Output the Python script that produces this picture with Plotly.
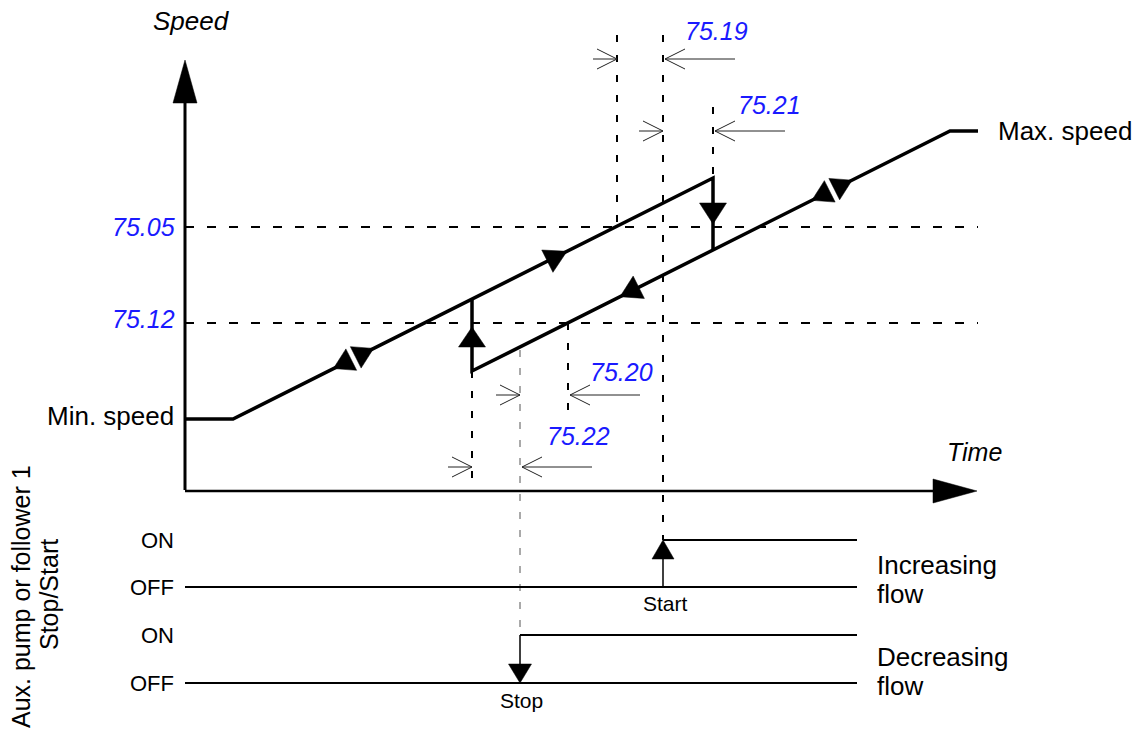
import numpy as np
import plotly.graph_objects as go

# ---------------- data (diagram units: x = time, y = speed, screen-like, down = lower) -------------
# increasing-flow path: min speed -> ramp up -> drop at 75.21 delay end
inc_time = [185, 233, 713, 713]
inc_speed = [419, 419, 178, 250]
# decreasing-flow path: rise at 75.22 delay end -> ramp -> max speed
dec_time = [472, 472, 950, 978]
dec_speed = [299, 371, 131, 131]

level_names = ["75.05", "75.12"]
level_values = [227, 323]

speed_labels = ["Min. speed", "Max. speed"]

# delay markers: label, from-time, to-time, marker height
delay_labels = ["75.19", "75.21", "75.20", "75.22"]
delay_from = [617, 663, 520, 472]
delay_to = [663, 713, 568, 520]
delay_level = [59, 131, 395, 467]
delay_label_pos = [(716, 31), (769, 105), (621, 372), (578, 436)]

# guide lines (time, from, to)
guide_time = [617, 663, 713, 472, 568]
guide_top = [35, 35, 107, 371, 323]
guide_bottom = [227, 540, 178, 490, 420]
stop_guide = (520, 350, 635)

# Stop / Start signals
state_labels = ["ON", "OFF", "ON", "OFF"]
state_levels = [540, 587, 635, 683]
start_time = 663
stop_time = 520
signal_end = 857

FONT = "Liberation Sans, Arial, sans-serif"
BLUE = "#1a1aff"

fig = go.Figure()


def add_line(x, y, width=2, color="black", dash=None):
    fig.add_trace(go.Scatter(x=x, y=y, mode="lines", hoverinfo="skip",
                             line=dict(color=color, width=width, dash=dash)))


def add_tri(ax, ay, dx, dy, length, half, outline=0):
    n = np.hypot(dx, dy)
    ux, uy = dx / n, dy / n
    bx, by = ax - ux * length, ay - uy * length
    px, py = -uy, ux
    xs = [ax, bx + px * half, bx - px * half, ax]
    ys = [ay, by + py * half, by - py * half, ay]
    fig.add_trace(go.Scatter(x=xs, y=ys, mode="lines", fill="toself", fillcolor="black",
                             hoverinfo="skip",
                             line=dict(color="white" if outline else "black", width=outline if outline else 0.5)))


def add_chevron(x, y, direction, shaft):
    # direction +1 => '>' (shaft on the left) ; -1 => '<' (shaft on the right)
    add_line([x - direction * 20, x, x - direction * 20], [y - 10, y, y + 10], width=1, color="#222")
    add_line([x, x - direction * shaft], [y, y], width=1, color="#222")


# horizontal dashed level lines
for v in level_values:
    add_line([185, 978], [v, v], width=2, dash="9px,13px")

# vertical dashed guides
for t, a, b in zip(guide_time, guide_top, guide_bottom):
    add_line([t, t], [a, b], width=2, dash="7px,13px")
add_line([stop_guide[0]] * 2, [stop_guide[1], stop_guide[2]], width=1, color="#555", dash="7px,11px")

# axes
add_line([185, 185], [490, 100], width=3)
add_tri(185, 60, 0, -1, 43, 12)
add_line([185, 935], [491, 491], width=2.5)
add_tri(977, 491, 1, 0, 44, 12)

# speed paths
add_line(inc_time, inc_speed, width=3.5)
add_line(dec_time, dec_speed, width=3.5)


def on_path(xs, ys, t):
    return float(np.interp(t, xs, ys))


up_x = inc_time[1:3]
up_y = inc_speed[1:3]
dn_x = dec_time[1:3]
dn_y = dec_speed[1:3]
slope_dir = (up_x[1] - up_x[0], up_y[1] - up_y[0])


def double_arrow(xs, ys, tc):
    n = np.hypot(*slope_dir)
    ux, uy = slope_dir[0] / n, slope_dir[1] / n
    cy = on_path(xs, ys, tc)
    gap = 2.5
    add_line([tc - ux * 4, tc + ux * 4], [cy - uy * 4, cy + uy * 4], width=6, color="white")
    add_tri(tc + ux * (gap + 20), cy + uy * (gap + 20), ux, uy, 20, 12)
    add_tri(tc - ux * (gap + 20), cy - uy * (gap + 20), -ux, -uy, 20, 12)


double_arrow(up_x, up_y, 353.5)
double_arrow(dn_x, dn_y, 832)
# single direction arrows
add_tri(567, on_path(up_x, up_y, 567), slope_dir[0], slope_dir[1], 22, 12.5)
add_tri(620, on_path(dn_x, dn_y, 620), -slope_dir[0], -slope_dir[1], 21, 12.5)
add_tri(472, 327, 0, -1, 20, 13.5)
add_tri(713, 224, 0, 1, 21, 13.5)

# delay markers
for lab, a, b, lv in zip(delay_labels, delay_from, delay_to, delay_level):
    add_chevron(a, lv, 1, 24)
    add_chevron(b + 2, lv, -1, 70)

# Stop/Start signal lines
add_line([185, signal_end], [state_levels[1]] * 2, width=2)
add_line([start_time, signal_end], [state_levels[0]] * 2, width=2)
add_line([185, signal_end], [state_levels[3]] * 2, width=2)
add_line([stop_time, signal_end], [state_levels[2]] * 2, width=2)
add_line([start_time, start_time], [state_levels[1], state_levels[0] + 15], width=1.5)
add_tri(start_time, state_levels[0], 0, -1, 19, 11)
add_line([stop_time, stop_time], [state_levels[2], state_levels[3] - 15], width=1.5)
add_tri(stop_time, state_levels[3], 0, 1, 19, 11.5)

ann = []


def text(x, y, s, size=25, xanchor="center", color="black", italic=False, angle=0):
    ann.append(dict(x=x, y=y, xref="x", yref="y", text=s, showarrow=False,
                    xanchor=xanchor, yanchor="middle", textangle=angle,
                    font=dict(family=FONT, size=size, color=color,
                              style="italic" if italic else "normal")))


text(151, 21, "Speed", size=26, xanchor="left", italic=True)
text(945, 452, "Time", size=25, xanchor="left", italic=True)
for name, v, dy in zip(level_names, level_values, [0, -4]):
    text(177, v + dy, name, size=25, xanchor="right", color=BLUE, italic=True)
for lab, (lx, ly) in zip(delay_labels, delay_label_pos):
    text(lx, ly, lab, size=25, color=BLUE, italic=True)
text(176, inc_speed[0] - 3, speed_labels[0], size=26, xanchor="right")
text(996, dec_speed[-1], speed_labels[1], size=26, xanchor="left")
for lab, lv in zip(state_labels, state_levels):
    text(176, lv, lab, size=22, xanchor="right")
text(665, 603, "Start", size=21)
text(521, 700, "Stop", size=21)
text(875, 565, "Increasing", size=26, xanchor="left")
text(875, 594, "flow", size=26, xanchor="left")
text(875, 657, "Decreasing", size=26, xanchor="left")
text(875, 686, "flow", size=26, xanchor="left")
text(21, 597, "Aux. pump or follower 1", size=25, angle=-90)
text(49, 595, "Stop/Start", size=25, angle=-90)

fig.update_layout(
    width=1140, height=737, autosize=False,
    margin=dict(l=0, r=0, t=0, b=0),
    paper_bgcolor="white", plot_bgcolor="white",
    showlegend=False,
    xaxis=dict(range=[0, 1140], visible=False, fixedrange=True),
    yaxis=dict(range=[737, 0], visible=False, fixedrange=True),
    annotations=ann,
)

fig.write_html("out.html", config={"displayModeBar": False},
               post_script="document.body.style.margin='0';document.body.style.overflow='hidden';")
